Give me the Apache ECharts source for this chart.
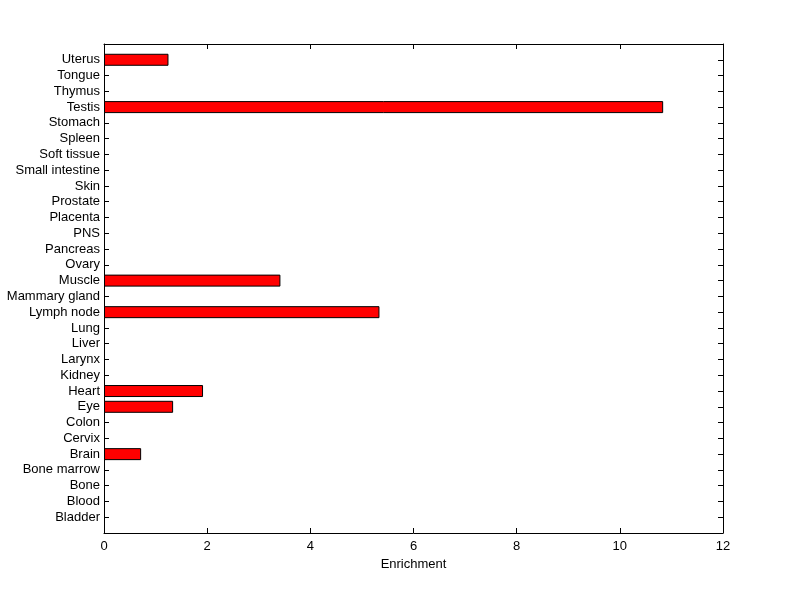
<!DOCTYPE html>
<html><head><meta charset="utf-8">
<script src="https://cdn.jsdelivr.net/npm/echarts@6/dist/echarts.min.js"></script>
<style>html,body{margin:0;padding:0;background:#fff}#c{width:800px;height:599px}</style>
</head><body><div id="c"></div>
<script>
const categories = ['Bladder','Blood','Bone','Bone marrow','Brain','Cervix','Colon','Eye','Heart','Kidney','Larynx','Liver','Lung','Lymph node','Mammary gland','Muscle','Ovary','Pancreas','PNS','Placenta','Prostate','Skin','Small intestine','Soft tissue','Spleen','Stomach','Testis','Thymus','Tongue','Uterus'];
const enrichment = [0,0,0,0,0.72,0,0,1.34,1.92,0,0,0,0,5.34,0,3.42,0,0,0,0,0,0,0,0,0,0,10.84,0,0,1.25];
const xTicks = {min:0, max:12, interval:2};

const cats = [''].concat(categories, ['']);
const vals = [null].concat(enrichment.map(v => v > 0 ? v : null), [null]);

const font = 'Liberation Sans, Arial, sans-serif';
const chart = echarts.init(document.getElementById('c'));
const lineStyle = {color:'#000', width:1};
chart.setOption({
  backgroundColor:'#fff',
  animation:false,
  grid:{left:104, right:77, top:44, bottom:66},
  xAxis:[{
    type:'value', position:'bottom', min:xTicks.min, max:xTicks.max, interval:xTicks.interval,
    axisLine:{show:true, onZero:false, lineStyle}, splitLine:{show:false},
    axisTick:{show:true, inside:true, length:5, lineStyle},
    axisLabel:{color:'#000', fontSize:13, fontFamily:font, margin:7},
    name:'Enrichment', nameLocation:'middle', nameGap:25,
    nameTextStyle:{color:'#000', fontSize:13, fontFamily:font}
  },{
    type:'value', position:'top', min:xTicks.min, max:xTicks.max, interval:xTicks.interval,
    axisLine:{show:true, onZero:false, lineStyle}, splitLine:{show:false},
    axisTick:{show:true, inside:true, length:5, lineStyle},
    axisLabel:{show:false}
  }],
  yAxis:[{
    type:'category', position:'left', data:cats, boundaryGap:false,
    axisLine:{show:true, onZero:false, lineStyle}, splitLine:{show:false},
    axisTick:{show:true, inside:true, length:5, lineStyle, interval:0},
    axisLabel:{color:'#000', fontSize:13, fontFamily:font, margin:4, interval:0}
  },{
    type:'category', position:'right', data:cats, boundaryGap:false,
    axisLine:{show:true, onZero:false, lineStyle}, splitLine:{show:false},
    axisTick:{show:true, inside:true, length:5, lineStyle, interval:0},
    axisLabel:{show:false}
  }],
  series:[{
    type:'bar', data:vals, barWidth:12, xAxisIndex:0, yAxisIndex:0,
    itemStyle:{color:'#ff0000', borderColor:'#000', borderWidth:1}
  }]
});
</script></body></html>
